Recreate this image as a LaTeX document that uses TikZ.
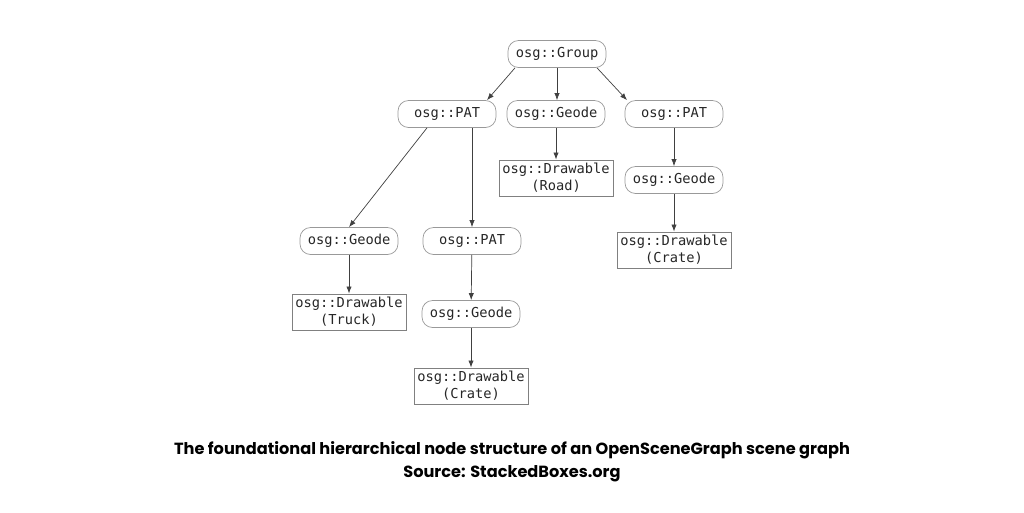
\documentclass[tikz,border=0pt]{standalone}
\usepackage{fontspec}
\setmainfont{Poppins}
\setmonofont{DejaVu Sans Mono}
\usetikzlibrary{arrows.meta,positioning}

\begin{document}
\begin{tikzpicture}[x=0.02cm,y=-0.02cm,>={Latex[length=4pt,width=3pt]},
 osgnd/.style={draw=black!40,rounded corners=6pt,minimum width=1.96cm,minimum height=0.54cm,inner sep=2pt,font=\ttfamily\fontsize{7.8}{9}\selectfont,text=black!85},
 drw/.style={draw=black!50,align=center,minimum width=2.26cm,inner sep=2pt,font=\ttfamily\fontsize{7.8}{9.6}\selectfont,text=black!85},
 lnk/.style={->,draw=black!75,line width=0.4pt}]
\useasboundingbox (0,0) rectangle (1024,512);
\node[osgnd] (grp) at (557,54) {osg::Group};
\node[osgnd] (pat1) at (447,114) {osg::PAT};
\node[osgnd] (geo1) at (556,114) {osg::Geode};
\node[osgnd] (pat2) at (674,114) {osg::PAT};
\node[drw] (road) at (556,178) {osg::Drawable\\(Road)};
\node[osgnd] (geo2) at (674,180) {osg::Geode};
\node[drw] (crate1) at (674,250) {osg::Drawable\\(Crate)};
\node[osgnd] (geo3) at (349,241) {osg::Geode};
\node[osgnd] (pat3) at (472,241) {osg::PAT};
\node[drw] (truck) at (349,312) {osg::Drawable\\(Truck)};
\node[osgnd] (geo4) at (471,314) {osg::Geode};
\node[drw] (crate2) at (471,386) {osg::Drawable\\(Crate)};
\node[font=\bfseries\fontsize{9.2}{13.2}\selectfont,align=center] (cap) at (512,462) {The foundational hierarchical node structure of an OpenSceneGraph scene graph\\Source: StackedBoxes.org};
\draw[lnk] ([xshift=-0.84cm]grp.south) -- ([xshift=0.8cm]pat1.north);
\draw[lnk] (grp.south) -- (grp.south |- geo1.north);
\draw[lnk] ([xshift=0.8cm]grp.south) -- ([xshift=-0.94cm]pat2.north);
\draw[lnk] ([xshift=-0.4cm]pat1.south) -- (geo3.north);
\draw[lnk] (pat1.south -| pat3.north) -- (pat3.north);
\draw[lnk] (geo1) -- (road);
\draw[lnk] (pat2) -- (geo2);
\draw[lnk] (geo2) -- (crate1);
\draw[lnk] (geo3) -- (truck);
\draw[lnk] (pat3) -- (geo4);
\draw[lnk] (geo4) -- (crate2);
\end{tikzpicture}
\end{document}
